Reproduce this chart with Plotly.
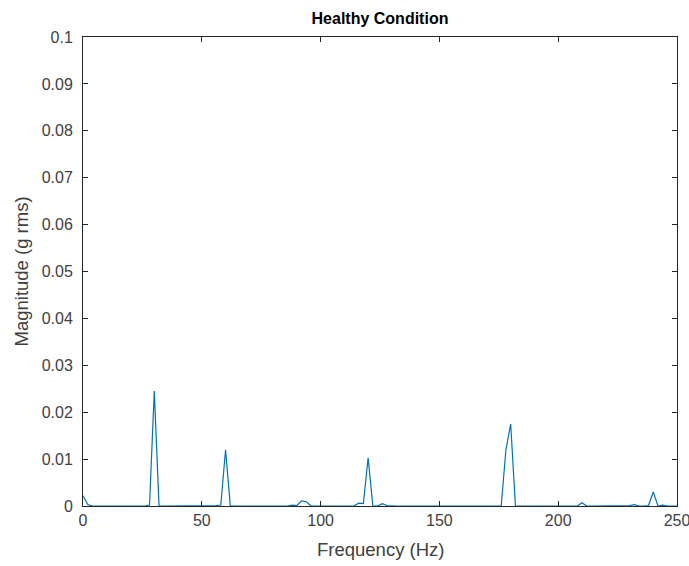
import plotly.graph_objects as go

# Spectrum bins (Hz), 2 Hz resolution from 0 to 250
freq_hz = [
    0, 2, 4, 6, 8, 10, 12, 14, 16, 18, 20, 22, 24, 26, 28, 30, 32, 34, 36, 38,
    40, 42, 44, 46, 48, 50, 52, 54, 56, 58, 60, 62, 64, 66, 68, 70, 72, 74, 76, 78,
    80, 82, 84, 86, 88, 90, 92, 94, 96, 98, 100, 102, 104, 106, 108, 110, 112, 114, 116, 118,
    120, 122, 124, 126, 128, 130, 132, 134, 136, 138, 140, 142, 144, 146, 148, 150, 152, 154, 156, 158,
    160, 162, 164, 166, 168, 170, 172, 174, 176, 178, 180, 182, 184, 186, 188, 190, 192, 194, 196, 198,
    200, 202, 204, 206, 208, 210, 212, 214, 216, 218, 220, 222, 224, 226, 228, 230, 232, 234, 236, 238,
    240, 242, 244, 246, 248, 250,
]

# Magnitude (g rms) at each bin
magnitude_g = [
    0.0022, 0.0003, 0.0, 0.0, 0.0, 0.0, 0.0, 0.0, 0.0, 0.0, 0.0, 0.0, 0.0, 0.0, 0.0002, 0.0245, 0.0, 0.0, 0.0, 0.0,
    0.0, 0.0, 0.0, 0.0, 0.0, 0.0, 0.0, 0.0, 0.0001, 0.0002, 0.0120, 0.0, 0.0, 0.0, 0.0, 0.0, 0.0, 0.0, 0.0, 0.0,
    0.0, 0.0, 0.0, 0.0, 0.0002, 0.0001, 0.0011, 0.0009, 0.0, 0.0, 0.0, 0.0, 0.0, 0.0, 0.0, 0.0, 0.0, 0.0, 0.0006, 0.0005,
    0.0103, 0.0, 0.0, 0.0005, 0.0001, 0.0, 0.0, 0.0, 0.0, 0.0, 0.0, 0.0, 0.0, 0.0, 0.0, 0.0, 0.0, 0.0, 0.0, 0.0,
    0.0, 0.0, 0.0, 0.0, 0.0, 0.0, 0.0, 0.0, 0.0, 0.0120, 0.0175, 0.0, 0.0, 0.0, 0.0, 0.0, 0.0, 0.0, 0.0, 0.0,
    0.0, 0.0, 0.0, 0.0, 0.0, 0.0007, 0.0, 0.0, 0.0, 0.0, 0.0, 0.0, 0.0, 0.0, 0.0, 0.0001, 0.0003, 0.0, 0.0, 0.0001,
    0.0030, 0.0, 0.0002, 0.0, 0.0, 0.0,
]

x_ticks = [0, 50, 100, 150, 200, 250]
y_ticks = [0, 0.01, 0.02, 0.03, 0.04, 0.05, 0.06, 0.07, 0.08, 0.09, 0.1]
y_tick_text = ["0", "0.01", "0.02", "0.03", "0.04", "0.05", "0.06", "0.07", "0.08", "0.09", "0.1"]

axis_color = "#262626"
label_color = "#404040"
font_family = "Liberation Sans, Arial, sans-serif"

W, H = 689, 566
L, R, T, B = 83, 12, 37, 60

fig = go.Figure()
fig.add_trace(go.Scatter(
    x=freq_hz, y=magnitude_g, mode="lines",
    line=dict(color="#0072BD", width=1.2),
    showlegend=False,
))

axis_common = dict(
    showline=True, linecolor=axis_color, linewidth=1, mirror="ticks",
    ticks="inside", ticklen=5, tickcolor=axis_color, tickwidth=1,
    showgrid=False, zeroline=False, automargin=False,
    ticklabeloverflow="allow",
    tickfont=dict(family=font_family, size=16, color=label_color),
)

fig.update_layout(
    width=W, height=H,
    margin=dict(l=L, r=R, t=T, b=B, autoexpand=False),
    paper_bgcolor="white", plot_bgcolor="white",
    title=dict(
        text="<b>Healthy Condition</b>",
        x=(L + (W - R)) / 2 / W, xanchor="center",
        y=1 - 18 / H, yanchor="middle", yref="container",
        font=dict(family=font_family, size=16, color="#000000"),
    ),
    xaxis=dict(range=[0, 250], tickvals=x_ticks, ticklabelstandoff=0, **axis_common),
    yaxis=dict(range=[0, 0.1], tickvals=y_ticks, ticktext=y_tick_text, ticklabelstandoff=6, **axis_common),
    annotations=[
        dict(
            text="Frequency (Hz)", xref="paper", yref="paper",
            x=0.5, y=-(549 - (H - B)) / (H - T - B), xanchor="center", yanchor="middle",
            showarrow=False, font=dict(family=font_family, size=18.5, color=label_color),
        ),
        dict(
            text="Magnitude (g rms)", xref="paper", yref="paper",
            x=-(L - 21) / (W - L - R), y=0.5, xanchor="center", yanchor="middle", textangle=-90,
            showarrow=False, font=dict(family=font_family, size=18.5, color=label_color),
        ),
    ],
)

fig.write_html("out.html")
